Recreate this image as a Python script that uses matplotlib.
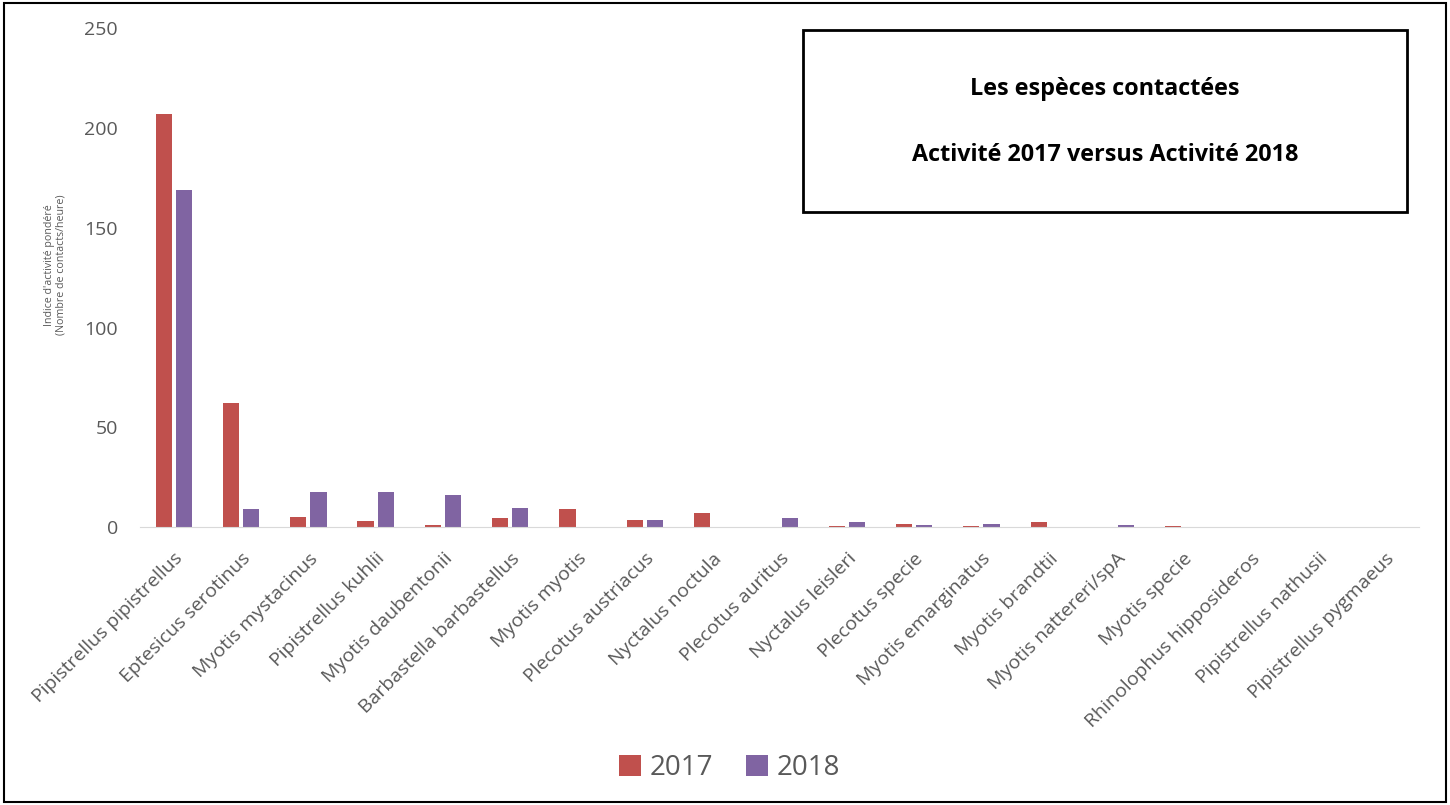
import matplotlib.pyplot as plt
import numpy as np
from matplotlib.patches import Rectangle

# especes et valeurs
especes = ["Pipistrellus pipistrellus", "Eptesicus serotinus", "Myotis mystacinus",
           "Pipistrellus kuhlii", "Myotis daubentonii", "Barbastella barbastellus",
           "Myotis myotis", "Plecotus austriacus", "Nyctalus noctula", "Plecotus auritus",
           "Nyctalus leisleri", "Plecotus specie", "Myotis emarginatus", "Myotis brandtii",
           "Myotis nattereri/spA", "Myotis specie", "Rhinolophus hipposideros",
           "Pipistrellus nathusii", "Pipistrellus pygmaeus"]
activite_2017 = [207, 62.5, 5, 3, 1, 4.5, 9, 3.5, 7, 0, 0.5, 1.5, 0.5, 2.5, 0, 0.5, 0, 0, 0]
activite_2018 = [169, 9, 17.5, 17.5, 16, 9.5, 0, 3.5, 0, 4.5, 2.5, 1, 1.5, 0, 1, 0, 0, 0, 0]
y_ticks = [0, 50, 100, 150, 200, 250]

rouge = "#C0504D"
violet = "#8064A2"
gris = "#595959"

plt.rcParams["font.family"] = ["Open Sans", "DejaVu Sans"]

fig = plt.figure(figsize=(14.5, 8.05), dpi=100)
ax = fig.add_axes([0.0966, 0.345, 0.882, 0.62])

x = np.arange(len(especes))
w = 0.24
ax.bar(x - 0.15, activite_2017, w, color=rouge, label="2017")
ax.bar(x + 0.15, activite_2018, w, color=violet, label="2018")

ax.set_xlim(-0.5, len(especes) - 0.5)
ax.set_ylim(0, 250)
ax.set_yticks(y_ticks)
ax.tick_params(axis="y", length=0, labelsize=14, labelcolor=gris, pad=16)
ax.tick_params(axis="x", length=0, pad=16)
ax.set_xticks(x)
ax.set_xticklabels(especes, rotation=45, ha="right", rotation_mode="anchor",
                   fontsize=14, color=gris)
for s in ["top", "right", "left"]:
    ax.spines[s].set_visible(False)
ax.spines["bottom"].set_color("#D9D9D9")

fig.text(0.038, 0.671, "Indice d'activité pondéré\n(Nombre de contacts/heure)",
         rotation=90, ha="center", va="center", fontsize=7.7, color=gris,
         linespacing=1.1)

# cadre du titre
fig.patches.append(Rectangle((0.554, 0.737), 0.416, 0.226, transform=fig.transFigure,
                             fill=False, edgecolor="black", linewidth=2))
fig.text(0.762, 0.89, "Les espèces contactées", ha="center", va="center",
         fontsize=16.8, fontweight="bold")
fig.text(0.762, 0.807, "Activité 2017 versus Activité 2018", ha="center", va="center",
         fontsize=16.8, fontweight="bold")

# cadre exterieur
fig.patches.append(Rectangle((0.003, 0.004), 0.994, 0.992, transform=fig.transFigure,
                             fill=False, edgecolor="black", linewidth=1.5))

fig.legend(loc="center", bbox_to_anchor=(0.503, 0.046), ncol=2, frameon=False,
           fontsize=20, handlelength=0.8, handleheight=0.8, handletextpad=0.3,
           columnspacing=1.2, labelcolor=gris)

fig.savefig("out.png", dpi=100)
